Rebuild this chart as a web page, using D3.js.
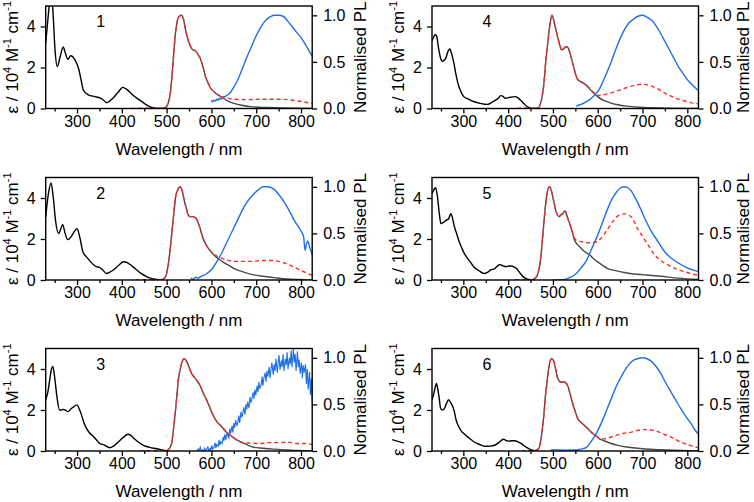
<!DOCTYPE html>
<html>
<head>
<meta charset="utf-8">
<script src="https://cdn.jsdelivr.net/npm/d3@7"></script>
<style>
  html, body { margin: 0; padding: 0; background: #fff; }
  svg { display: block; font-family: "Liberation Sans", Arial, sans-serif; }
</style>
</head>
<body>
<svg id="chart" width="754" height="502"></svg>
<script>
// ---------- DATA (wavelength nm, value) ----------
const xTicks = [300, 400, 500, 600, 700, 800];
const xMinor = [250, 350, 450, 550, 650, 750];
const yLeftTicks = [0, 2, 4];
const yRightTicks = [0, 0.5, 1.0];
const panelLabels = ["1", "2", "3", "4", "5", "6"];

// absorption (ε / 10^4 M^-1 cm^-1, left axis)
const abs1 = [[230,3.2],[236,4.6],[241,5.6],[246,4.8],[251,2.8],[256,2.05],[262,2.5],[269,3.0],[274,2.7],[279,2.4],[286,2.57],[295,2.38],[304,1.9],[309,1.4],[314,0.9],[325,0.66],[340,0.58],[351,0.52],[357,0.45],[366,0.28],[372,0.35],[381,0.52],[392,0.8],[402,1.03],[411,0.93],[425,0.65],[440,0.41],[452,0.22],[463,0.08],[475,0.02],[485,0]];
const abs2 = [[230,3.08],[236,4.2],[242,4.73],[247,4.0],[252,2.9],[259,2.27],[263,2.45],[268,2.7],[273,2.3],[279,1.97],[288,2.15],[295,2.4],[300,2.5],[306,2.1],[313,1.38],[320,1.15],[327,0.97],[343,0.65],[350,0.62],[357,0.5],[366,0.32],[373,0.38],[381,0.49],[393,0.72],[404,0.89],[412,0.85],[420,0.73],[430,0.55],[443,0.32],[455,0.17],[466,0.08],[485,0]];
const abs3 = [[230,2.5],[235,2.9],[239,3.48],[243,4.0],[246,4.13],[250,3.6],[255,2.66],[261,2.0],[265,2.0],[269,2.03],[275,1.98],[280,1.92],[286,2.05],[291,2.13],[300,2.25],[305,2.05],[310,1.75],[315,1.4],[321,1.1],[328,0.88],[336,0.72],[344,0.52],[351,0.36],[360,0.3],[373,0.16],[382,0.25],[392,0.44],[403,0.66],[414,0.82],[420,0.76],[425,0.66],[436,0.45],[448,0.28],[462,0.18],[478,0.11],[490,0.05],[500,0]];
const abs4 = [[230,3.3],[233,3.45],[237,3.6],[240,3.55],[245,2.9],[250,2.4],[253,2.3],[257,2.35],[261,2.47],[266,2.8],[270,2.9],[274,2.65],[279,2.2],[284,1.6],[290,1.07],[295,0.8],[301,0.58],[312,0.45],[324,0.33],[338,0.25],[353,0.2],[362,0.28],[372,0.41],[378,0.5],[383,0.63],[388,0.6],[394,0.5],[405,0.55],[416,0.58],[422,0.52],[428,0.4],[435,0.24],[443,0.08],[450,0.02],[457,0]];
const abs5 = [[230,4.2],[234,4.4],[238,4.5],[242,4.1],[246,3.3],[250,2.75],[256,2.82],[262,2.92],[267,2.98],[272,3.24],[276,3.0],[280,2.6],[285,2.27],[291,1.85],[297,1.54],[302,1.3],[307,1.13],[315,0.9],[323,0.65],[335,0.45],[346,0.32],[353,0.36],[361,0.49],[370,0.55],[376,0.68],[381,0.75],[384,0.73],[390,0.68],[395,0.65],[402,0.68],[407,0.68],[413,0.64],[418,0.57],[424,0.42],[430,0.24],[437,0.1],[445,0.03],[460,0]];
const abs6 = [[230,2.5],[234,2.8],[237,3.1],[240,3.3],[243,3.0],[246,2.6],[249,2.1],[253,2.0],[258,2.08],[262,2.3],[267,2.5],[272,2.35],[279,2.0],[284,1.5],[290,1.18],[295,0.98],[301,0.85],[312,0.65],[324,0.44],[335,0.33],[347,0.23],[360,0.24],[370,0.28],[380,0.42],[389,0.57],[395,0.52],[400,0.48],[408,0.5],[415,0.5],[422,0.45],[428,0.38],[434,0.28],[442,0.16],[449,0.08],[456,0.03],[464,0]];

// grey solid (normalised, right axis)
const grey1 = [[480,0],[497,0.01],[503,0.05],[508,0.16],[512,0.35],[516,0.6],[520,0.82],[523,0.92],[528,0.99],[533,1.0],[538,0.95],[542,0.85],[547,0.75],[553,0.67],[558,0.63],[564,0.62],[570,0.58],[575,0.54],[581,0.45],[587,0.34],[592,0.28],[598,0.22],[608,0.17],[620,0.13],[635,0.085],[650,0.055],[668,0.035],[687,0.02],[725,0.01],[780,0.004],[825,0]];
const grey2 = [[480,0],[492,0.01],[498,0.04],[505,0.21],[509,0.38],[513,0.57],[517,0.76],[520,0.89],[525,0.97],[530,1.0],[535,0.95],[539,0.86],[544,0.77],[548,0.7],[553,0.68],[558,0.68],[564,0.67],[569,0.63],[575,0.55],[581,0.45],[588,0.38],[596,0.32],[605,0.27],[615,0.23],[627,0.19],[638,0.16],[652,0.12],[669,0.09],[690,0.06],[715,0.04],[740,0.025],[769,0.01],[800,0.005],[825,0]];
const grey3 = [[498,0],[505,0.02],[511,0.08],[515,0.22],[519,0.4],[523,0.6],[526,0.76],[530,0.87],[534,0.95],[539,0.99],[545,0.96],[550,0.9],[556,0.83],[562,0.79],[567,0.76],[575,0.7],[582,0.62],[590,0.54],[597,0.46],[604,0.38],[613,0.31],[623,0.26],[632,0.21],[642,0.17],[653,0.13],[664,0.1],[678,0.07],[694,0.04],[715,0.03],[739,0.02],[780,0.008],[825,0]];
const grey4 = [[455,0],[468,0.01],[472,0.05],[476,0.13],[480,0.28],[483,0.45],[487,0.64],[491,0.81],[495,0.95],[498,1.0],[503,0.92],[507,0.84],[512,0.74],[516,0.67],[519,0.63],[524,0.64],[528,0.66],[532,0.66],[535,0.64],[540,0.56],[546,0.45],[550,0.38],[554,0.32],[561,0.29],[569,0.27],[577,0.24],[584,0.2],[592,0.16],[599,0.13],[612,0.09],[628,0.06],[645,0.04],[665,0.025],[702,0.01],[760,0.004],[825,0]];
const grey5 = [[453,0],[464,0.04],[468,0.1],[472,0.21],[476,0.4],[479,0.57],[483,0.78],[487,0.93],[492,1.0],[495,0.98],[498,0.93],[502,0.84],[506,0.75],[510,0.7],[514,0.68],[518,0.7],[521,0.71],[527,0.74],[532,0.68],[537,0.61],[543,0.52],[548,0.43],[555,0.38],[563,0.34],[572,0.3],[582,0.27],[590,0.23],[598,0.2],[610,0.16],[621,0.125],[640,0.1],[659,0.08],[680,0.065],[705,0.055],[740,0.04],[781,0.02],[825,0.005]];
const grey6 = [[457,0],[468,0.025],[472,0.09],[476,0.22],[480,0.4],[483,0.58],[487,0.75],[491,0.9],[497,0.99],[502,0.96],[506,0.88],[510,0.79],[514,0.75],[517,0.74],[521,0.74],[525,0.74],[529,0.73],[533,0.7],[539,0.6],[544,0.51],[550,0.42],[555,0.35],[562,0.31],[570,0.275],[578,0.24],[586,0.2],[594,0.17],[601,0.14],[614,0.11],[627,0.086],[645,0.06],[665,0.043],[690,0.03],[718,0.018],[770,0.008],[825,0]];

// red dashed (normalised, right axis)
const red1 = [[420,0],[460,0.003],[480,0],[497,0.01],[503,0.05],[508,0.16],[512,0.35],[516,0.6],[520,0.82],[523,0.92],[528,0.99],[533,1.0],[538,0.95],[542,0.85],[547,0.75],[553,0.67],[558,0.63],[564,0.62],[570,0.58],[575,0.54],[581,0.45],[587,0.34],[592,0.28],[598,0.22],[608,0.17],[620,0.13],[635,0.11],[650,0.1],[680,0.095],[710,0.1],[740,0.1],[770,0.095],[800,0.075],[825,0.055]];
const red2 = [[430,0],[470,0.005],[485,0],[492,0.01],[498,0.04],[505,0.21],[509,0.38],[513,0.57],[517,0.76],[520,0.89],[525,0.97],[530,1.0],[535,0.95],[539,0.86],[544,0.77],[548,0.7],[553,0.68],[558,0.68],[564,0.67],[569,0.63],[575,0.55],[581,0.45],[588,0.38],[596,0.32],[605,0.28],[615,0.25],[630,0.22],[654,0.2],[675,0.2],[692,0.2],[715,0.21],[735,0.21],[750,0.2],[770,0.17],[792,0.12],[810,0.08],[825,0.05]];
const red3 = [[440,0],[480,0.005],[498,0],[505,0.02],[511,0.08],[515,0.22],[519,0.4],[523,0.6],[526,0.76],[530,0.87],[534,0.95],[539,0.99],[545,0.96],[550,0.9],[556,0.83],[562,0.79],[567,0.76],[575,0.7],[582,0.62],[590,0.54],[597,0.46],[604,0.38],[613,0.31],[623,0.26],[632,0.21],[642,0.17],[653,0.13],[664,0.1],[672,0.09],[690,0.085],[710,0.08],[730,0.09],[750,0.09],[770,0.095],[790,0.08],[810,0.08],[825,0.07]];
const red4 = [[420,0],[445,0.005],[455,0],[468,0.01],[472,0.05],[476,0.13],[480,0.28],[483,0.45],[487,0.64],[491,0.81],[495,0.95],[498,1.0],[503,0.92],[507,0.84],[512,0.74],[516,0.67],[519,0.63],[524,0.64],[528,0.66],[532,0.66],[535,0.64],[540,0.56],[546,0.45],[550,0.38],[554,0.32],[561,0.29],[569,0.27],[577,0.24],[584,0.2],[592,0.17],[600,0.14],[610,0.145],[620,0.155],[635,0.175],[650,0.2],[665,0.225],[680,0.245],[700,0.26],[720,0.24],[735,0.21],[750,0.165],[765,0.13],[780,0.1],[795,0.08],[810,0.06],[825,0.05]];
const red5 = [[415,0],[440,0.004],[453,0],[464,0.04],[468,0.1],[472,0.21],[476,0.4],[479,0.57],[483,0.78],[487,0.93],[492,1.0],[495,0.98],[498,0.93],[502,0.84],[506,0.75],[510,0.7],[514,0.68],[518,0.7],[521,0.71],[527,0.74],[532,0.68],[537,0.61],[543,0.52],[548,0.45],[555,0.42],[565,0.41],[582,0.4],[598,0.41],[606,0.44],[613,0.48],[620,0.53],[628,0.59],[636,0.64],[643,0.68],[651,0.7],[659,0.71],[667,0.7],[674,0.68],[682,0.62],[689,0.55],[697,0.49],[705,0.43],[716,0.35],[727,0.27],[738,0.22],[750,0.18],[765,0.14],[781,0.11],[800,0.08],[825,0.05]];
const red6 = [[430,0],[450,0.004],[457,0],[468,0.025],[472,0.09],[476,0.22],[480,0.4],[483,0.58],[487,0.75],[491,0.9],[497,0.99],[502,0.96],[506,0.88],[510,0.79],[514,0.75],[517,0.74],[521,0.74],[525,0.74],[529,0.73],[533,0.7],[539,0.6],[544,0.51],[550,0.42],[555,0.35],[562,0.31],[570,0.275],[578,0.24],[586,0.2],[594,0.17],[601,0.145],[612,0.13],[627,0.145],[642,0.17],[658,0.19],[673,0.2],[688,0.22],[703,0.23],[718,0.225],[733,0.21],[748,0.18],[764,0.15],[779,0.11],[794,0.08],[810,0.055],[825,0.035]];

// blue solid PL (normalised, right axis)
const blue1 = [[600,0.09],[603,0.07],[606,0.09],[609,0.08],[612,0.1],[615,0.09],[618,0.11],[621,0.1],[625,0.12],[630,0.13],[640,0.16],[650,0.23],[660,0.32],[670,0.44],[680,0.56],[690,0.67],[700,0.78],[710,0.87],[720,0.94],[730,0.98],[740,1.0],[750,1.0],[760,0.99],[770,0.94],[780,0.88],[790,0.82],[800,0.76],[812,0.67],[825,0.56]];
const blue2 = [[554,0.02],[560,0.01],[565,0.03],[570,0.02],[577,0.04],[583,0.05],[590,0.07],[600,0.11],[610,0.18],[623,0.29],[635,0.41],[646,0.52],[658,0.64],[669,0.75],[680,0.84],[692,0.91],[703,0.96],[715,1.0],[725,1.0],[738,0.98],[750,0.92],[762,0.84],[773,0.75],[785,0.64],[797,0.55],[803,0.5],[806,0.46],[809,0.32],[812,0.38],[815,0.42],[819,0.36],[825,0.27]];
const blue3 = [[568,0.0],[570,0.02],[572,0.0],[575,0.04],[577,0.0],[580,0.01],[582,0.0],[585,0.03],[587,0.0],[590,0.02],[592,0.05],[594,0.0],[597,0.03],[599,0.01],[601,0.06],[603,0.02],[606,0.04],[608,0.09],[610,0.03],[612,0.07],[615,0.05],[617,0.12],[619,0.06],[621,0.1],[624,0.08],[626,0.15],[628,0.11],[630,0.18],[632,0.12],[635,0.2],[637,0.16],[639,0.14],[641,0.24],[643,0.19],[646,0.27],[648,0.2],[650,0.3],[652,0.25],[654,0.33],[657,0.27],[659,0.31],[661,0.38],[663,0.3],[666,0.42],[668,0.36],[670,0.4],[672,0.47],[675,0.39],[677,0.5],[679,0.45],[681,0.53],[684,0.46],[686,0.58],[688,0.52],[690,0.55],[693,0.63],[695,0.56],[697,0.66],[699,0.6],[702,0.7],[704,0.63],[706,0.74],[708,0.67],[711,0.71],[713,0.8],[715,0.7],[717,0.78],[720,0.84],[722,0.74],[724,0.86],[726,0.8],[729,0.9],[731,0.78],[733,0.88],[735,0.95],[738,0.82],[740,0.93],[742,0.86],[744,0.99],[747,0.84],[749,0.96],[751,1.03],[753,0.87],[756,0.97],[758,0.9],[760,1.04],[762,0.86],[765,0.99],[767,0.92],[769,1.06],[771,0.88],[774,1.0],[776,0.93],[778,1.08],[780,0.9],[783,1.1],[785,0.95],[787,1.04],[789,0.86],[792,1.07],[794,0.9],[796,0.98],[798,0.83],[801,0.95],[803,0.78],[805,0.92],[807,0.84],[810,0.93],[812,0.72],[814,0.88],[816,0.66],[819,0.85],[821,0.6],[823,0.78],[825,0.52]];
const blue4 = [[552,0.025],[560,0.04],[570,0.06],[580,0.09],[590,0.13],[600,0.18],[610,0.27],[620,0.38],[630,0.5],[640,0.63],[650,0.75],[660,0.85],[670,0.92],[680,0.96],[690,0.99],[700,1.0],[710,0.98],[720,0.95],[730,0.89],[740,0.81],[750,0.72],[760,0.63],[770,0.54],[780,0.45],[790,0.38],[800,0.31],[812,0.25],[825,0.19]];
const blue5 = [[500,0],[520,0.003],[529,0.01],[540,0.03],[552,0.07],[563,0.13],[575,0.21],[586,0.33],[598,0.46],[610,0.61],[621,0.75],[632,0.87],[643,0.95],[651,0.99],[659,1.0],[667,0.99],[674,0.96],[685,0.87],[697,0.75],[708,0.63],[720,0.52],[735,0.41],[750,0.3],[765,0.23],[781,0.18],[800,0.13],[825,0.09]];
const blue6 = [[495,0.01],[505,0.01],[515,0.012],[525,0.008],[535,0.01],[545,0.012],[551,0.01],[562,0.02],[574,0.035],[585,0.1],[597,0.19],[609,0.31],[620,0.44],[631,0.57],[642,0.7],[654,0.81],[665,0.9],[676,0.96],[688,0.99],[703,1.0],[710,0.99],[718,0.97],[730,0.91],[741,0.83],[752,0.73],[764,0.63],[775,0.54],[786,0.45],[797,0.37],[809,0.29],[818,0.22],[828,0.17]];

// ---------- LAYOUT ----------
const colX = [45.7, 432];
const rowY = [6, 177.5, 348.5];
const rightTitleOffset = [53.5, 50];
const W = 266.5, H = 102.5;
const FONT = '"Liberation Sans", Arial, sans-serif';
const C = { abs: "#000000", grey: "#4a4a4a", red: "#ff2a2a", blue: "#1f6fe5" };

const panels = [
  { label: panelLabels[0], col: 0, row: 0, abs: abs1, grey: grey1, red: red1, blue: blue1, noisy: false },
  { label: panelLabels[1], col: 0, row: 1, abs: abs2, grey: grey2, red: red2, blue: blue2, noisy: false },
  { label: panelLabels[2], col: 0, row: 2, abs: abs3, grey: grey3, red: red3, blue: blue3, noisy: true },
  { label: panelLabels[3], col: 1, row: 0, abs: abs4, grey: grey4, red: red4, blue: blue4, noisy: false },
  { label: panelLabels[4], col: 1, row: 1, abs: abs5, grey: grey5, red: red5, blue: blue5, noisy: false },
  { label: panelLabels[5], col: 1, row: 2, abs: abs6, grey: grey6, red: red6, blue: blue6, noisy: false }
];

const svg = d3.select("#chart");
const defs = svg.append("defs");

panels.forEach((p, i) => {
  const x0 = colX[p.col], y0 = rowY[p.row];
  const g = svg.append("g").attr("transform", `translate(${x0},${y0})`);

  const x = d3.scaleLinear().domain([230, 825]).range([0, W]);
  const yL = d3.scaleLinear().domain([0, 5]).range([H, 0]);
  const yR = d3.scaleLinear().domain([0, 1.1]).range([H, 0]);

  defs.append("clipPath").attr("id", "clip" + i)
    .append("rect").attr("x", 0).attr("y", 0).attr("width", W).attr("height", H);

  const plot = g.append("g").attr("clip-path", `url(#clip${i})`);
  const lineL = d3.line().x(d => x(d[0])).y(d => yL(d[1])).curve(d3.curveMonotoneX);
  const lineR = d3.line().x(d => x(d[0])).y(d => yR(d[1])).curve(d3.curveMonotoneX);
  const lineRlin = d3.line().x(d => x(d[0])).y(d => yR(d[1]));

  plot.append("path").datum(p.abs).attr("d", lineL)
    .attr("fill", "none").attr("stroke", C.abs).attr("stroke-width", 1.4);
  plot.append("path").datum(p.grey).attr("d", lineR)
    .attr("fill", "none").attr("stroke", C.grey).attr("stroke-width", 1.4);
  plot.append("path").datum(p.blue).attr("d", p.noisy ? lineRlin : lineR)
    .attr("fill", "none").attr("stroke", C.blue).attr("stroke-width", p.noisy ? 1.1 : 1.4);
  plot.append("path").datum(p.red).attr("d", lineR)
    .attr("fill", "none").attr("stroke", C.red).attr("stroke-width", 1.4)
    .attr("stroke-dasharray", "4,3");

  // frame
  g.append("rect").attr("x", 0).attr("y", 0).attr("width", W).attr("height", H)
    .attr("fill", "none").attr("stroke", "#000").attr("stroke-width", 1.4);

  // x axis
  const xAx = g.append("g").attr("transform", `translate(0,${H})`)
    .call(d3.axisBottom(x).tickValues(xTicks).tickSize(5).tickPadding(2).tickFormat(d3.format("d")));
  g.append("g").attr("transform", `translate(0,${H})`)
    .call(d3.axisBottom(x).tickValues(xMinor).tickSize(3).tickFormat(""))
    .call(a => a.select(".domain").remove());
  // left axis
  const lAx = g.append("g")
    .call(d3.axisLeft(yL).tickValues(yLeftTicks).tickSize(5).tickPadding(5).tickFormat(d3.format("d")));
  // right axis
  const rAx = g.append("g").attr("transform", `translate(${W},0)`)
    .call(d3.axisRight(yR).tickValues(yRightTicks).tickSize(5).tickPadding(6).tickFormat(d3.format(".1f")));

  [xAx, lAx, rAx].forEach(a => {
    a.select(".domain").remove();
    a.selectAll("text").attr("font-size", 16).attr("font-family", FONT).attr("fill", "#000");
  });
  g.selectAll(".tick line").attr("stroke", "#000").attr("stroke-width", 1.3);

  // panel number
  g.append("text").attr("x", 55).attr("y", 21)
    .attr("text-anchor", "middle").attr("font-size", 16).attr("font-family", FONT)
    .text(p.label);

  // x title
  g.append("text").attr("x", W / 2).attr("y", H + 46)
    .attr("text-anchor", "middle").attr("font-size", 17).attr("font-family", FONT)
    .text("Wavelength / nm");

  // left y title
  const yl = g.append("text")
    .attr("transform", `translate(${-27.7},${H / 2}) rotate(-90)`)
    .attr("text-anchor", "middle").attr("font-size", 17).attr("font-family", FONT);
  yl.append("tspan").text("ε / 10");
  yl.append("tspan").attr("font-size", 11).attr("dy", -7).text("4");
  yl.append("tspan").attr("dy", 7).text(" M");
  yl.append("tspan").attr("font-size", 11).attr("dy", -7).text("-1");
  yl.append("tspan").attr("dy", 7).text(" cm");
  yl.append("tspan").attr("font-size", 11).attr("dy", -7).text("-1");

  // right y title
  g.append("text")
    .attr("transform", `translate(${W + rightTitleOffset[p.col]},${H / 2}) rotate(-90)`)
    .attr("text-anchor", "middle").attr("font-size", 17).attr("font-family", FONT)
    .text("Normalised PL");
});
</script>
</body>
</html>
